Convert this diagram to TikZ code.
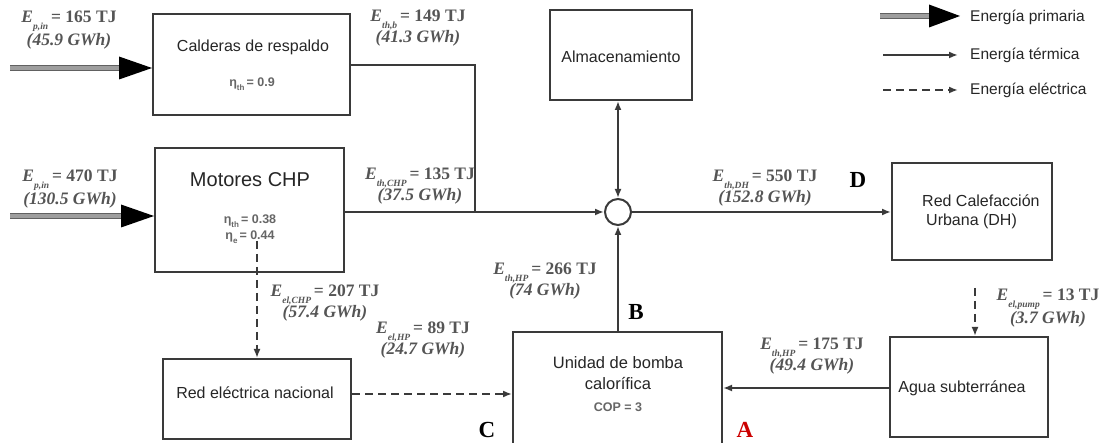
\documentclass[tikz,border=0pt]{standalone}
\usepackage{fontspec}
\setmainfont{Liberation Serif}
\newfontfamily\arialf{Liberation Sans}
\usetikzlibrary{arrows.meta,calc}
\definecolor{lbl}{HTML}{555555}
\definecolor{ln}{HTML}{3a3a3a}
\definecolor{boxtxt}{HTML}{262626}
\newcommand\ELab[3]{\textit{E}\raisebox{-0.4em}{\fontsize{9.5}{9.5}\selectfont\itshape #1}\,= #2 TJ\\\textit{(#3 GWh)}}
\newcommand\etaLab[2]{η\raisebox{-0.3em}{\fontsize{8}{8}\selectfont #1}\,= #2}
\begin{document}
\begin{tikzpicture}[x=1pt,y=-1pt,
  box/.style={draw=ln, line width=2pt, fill=white, inner sep=0pt},
  btxt/.style={font=\arialf\fontsize{16}{19}\selectfont, text=boxtxt, inner sep=0pt, align=center},
  eta/.style={font=\arialf\bfseries\fontsize{12.5}{14}\selectfont, text=black!60, inner sep=0pt},
  lab/.style={font=\bfseries\fontsize{17.5}{18.5}\selectfont, text=lbl, align=center, inner sep=0pt},
  letter/.style={font=\bfseries\fontsize{23}{23}\selectfont, inner sep=0pt},
  therm/.style={draw=ln, line width=2pt, -{Latex[length=9pt,width=7pt]}},
  thermline/.style={draw=ln, line width=2pt},
  elec/.style={therm, dash pattern=on 8pt off 5pt},
  pshaft/.style={draw=black!62, line width=1.4pt, double=black!38, double distance=4pt},
  legtxt/.style={font=\arialf\fontsize{15.5}{17}\selectfont, text=boxtxt, anchor=west, inner sep=0pt},
]
\useasboundingbox[fill=white] (0,0) rectangle (1111,443);

% boxes
\node[box, minimum width=197pt, minimum height=101pt] (cal) at (251.5,64.5) {};
\node[box, minimum width=189pt, minimum height=124pt] (chp) at (249.5,210) {};
\node[box, minimum width=142pt, minimum height=90pt] (stor) at (621,55) {};
\node[box, minimum width=160pt, minimum height=97pt] (dh) at (972,211.5) {};
\node[box, minimum width=188pt, minimum height=80pt] (red) at (257,399) {};
\node[box, minimum width=209pt, minimum height=120pt] (uni) at (617.5,392) {};
\node[box, minimum width=158pt, minimum height=100pt] (agua) at (969,387) {};
\node[draw=ln, line width=2pt, circle, minimum size=26pt, inner sep=0pt, fill=white] (mix) at (618,212) {};

% box texts
\node[btxt] (calt) at (253,47) {Calderas de respaldo};
\node[eta] (cale) at (252,84) {\etaLab{th}{0.9}};
\node[btxt, font=\arialf\fontsize{20}{22}\selectfont] (chpt) at (250,180) {Motores CHP};
\node[eta] (chpe1) at (250,221) {\etaLab{th}{0.38}};
\node[eta] (chpe2) at (250,237) {\etaLab{e}{0.44}};
\node[btxt] (stort) at (621,57) {Almacenamiento};
\node[btxt, align=left, anchor=west] (dht) at (922,212) {Red Calefacción\\\hspace{4pt}Urbana (DH)};
\node[btxt] (redt) at (255,393) {Red eléctrica nacional};
\node[btxt, font=\arialf\fontsize{16.5}{21}\selectfont] (unit) at (618,373) {Unidad de bomba\\calorífica};
\node[eta] (unie) at (618,407) {COP = 3};
\node[btxt] (aguat) at (962,388) {Agua subterránea};

% primary energy arrows
\coordinate (p1) at (10,68);
\coordinate (p2) at (10,216);
\draw[pshaft] (p1) -- ($(cal.west|-p1)+(-30,0)$);
\fill[black] (cal.west|-p1) -- ++(-33,-11.5) -- ++(0,23) -- cycle;
\draw[pshaft] (p2) -- ($(chp.west|-p2)+(-30,0)$);
\fill[black] (chp.west|-p2) -- ++(-33,-11.5) -- ++(0,23) -- cycle;

% thermal connectors
\coordinate (j1) at (475,65);
\draw[thermline] (cal.east|-j1) -- (j1) -- (j1|-mix.west);
\draw[therm] (chp.east|-mix) -- (mix.west);
\draw[draw=ln, line width=2pt, {Latex[length=9pt,width=7pt]}-{Latex[length=9pt,width=7pt]}] (stor.south-|mix) -- (mix.north);
\draw[therm] (uni.north-|mix) -- (mix.south);
\draw[therm] (mix.east) -- (dh.west|-mix);
\draw[therm] (agua.west|-0,388) -- (uni.east|-0,388);

% electrical connectors
\coordinate (e1) at ($(chp.south-|red.north)+(0,-32)$);
\draw[elec] (e1) -- (red.north);
\draw[elec] (red.east|-0,394) -- (uni.west|-0,394);
\coordinate (e2) at (975,288);
\draw[elec] (e2) -- (agua.north-|e2);

% labels
\node[lab] (l1) at (69,30) {\ELab{p,in}{165}{45.9}};
\node[lab] (l2) at (70,189) {\ELab{p,in}{470}{130.5}};
\node[lab] (l3) at (418,28) {\ELab{th,b}{149}{41.3}};
\node[lab] (l4) at (420,186) {\ELab{th,CHP}{135}{37.5}};
\node[lab] (l5) at (765,188) {\ELab{th,DH}{550}{152.8}};
\node[lab] (l6) at (545,281) {\ELab{th,HP}{266}{74}};
\node[lab] (l7) at (325,303) {\ELab{el,CHP}{207}{57.4}};
\node[lab] (l8) at (423,340) {\ELab{el,HP}{89}{24.7}};
\node[lab] (l9) at (812,356) {\ELab{th,HP}{175}{49.4}};
\node[lab] (l10) at (1048,308) {\ELab{el,pump}{13}{3.7}};

\node[letter] (B) at (636,312) {B};
\node[letter] (C) at (487,430) {C};
\node[letter] (D) at (858,180) {D};
\node[letter, text=red!80!black] (A) at (745,430) {A};

% legend
\coordinate (g1) at (880,16);
\coordinate (g1e) at (960,16);
\draw[pshaft] (g1) -- ($(g1e)+(-28,0)$);
\fill[black] (g1e) -- ++(-31,-11.5) -- ++(0,23) -- cycle;
\coordinate (g2) at (883,55);
\coordinate (g2e) at (958,55);
\draw[therm] (g2) -- (g2e);
\coordinate (g3) at (883,90);
\coordinate (g3e) at (958,90);
\draw[elec] (g3) -- (g3e);
\node[legtxt] (lg1) at (970,17) {Energía primaria};
\node[legtxt] (lg2) at (970,55) {Energía térmica};
\node[legtxt] (lg3) at (970,90) {Energía eléctrica};
\end{tikzpicture}
\end{document}
